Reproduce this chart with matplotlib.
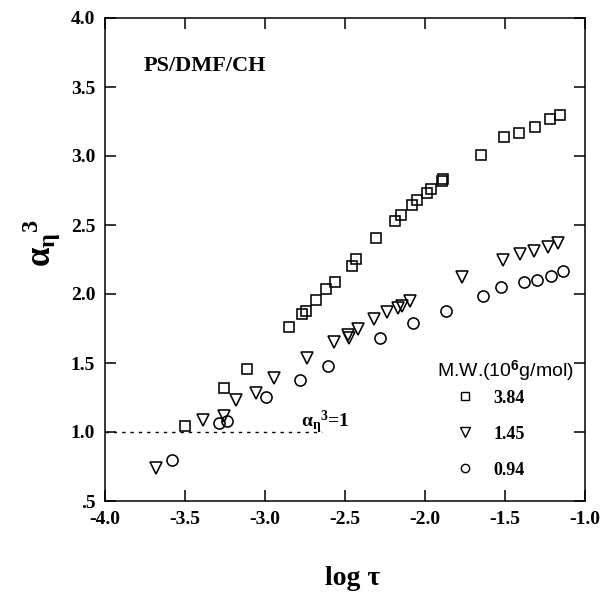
import matplotlib
matplotlib.use("Agg")
import matplotlib.pyplot as plt
from matplotlib.lines import Line2D

plt.rcParams['mathtext.fontset'] = 'custom'
plt.rcParams['mathtext.rm'] = 'Liberation Serif'
plt.rcParams['mathtext.it'] = 'Liberation Serif:italic'
plt.rcParams['mathtext.bf'] = 'Liberation Serif:bold'
plt.rcParams['mathtext.sf'] = 'Liberation Sans:bold'
plt.rcParams['axes.unicode_minus'] = False

# ---- data (log tau, alpha_eta^3) ----
sq_x = [-3.50, -3.254, -3.11, -2.85, -2.767, -2.746, -2.683, -2.62, -2.56,
        -2.458, -2.43, -2.306, -2.19, -2.152, -2.08, -2.052, -1.986, -1.962,
        -1.894, -1.888, -1.652, -1.508, -1.41, -1.31, -1.22, -1.154]
sq_y = [1.046, 1.317, 1.46, 1.76, 1.855, 1.877, 1.957, 2.036, 2.089,
        2.205, 2.254, 2.408, 2.527, 2.572, 2.643, 2.681, 2.73, 2.759,
        2.821, 2.831, 3.007, 3.135, 3.167, 3.212, 3.266, 3.295]

tri_x = [-3.68, -3.39, -3.254, -3.18, -3.056, -2.944, -2.74, -2.567, -2.48,
         -2.475, -2.42, -2.32, -2.24, -2.17, -2.146, -2.094, -1.77, -1.51,
         -1.406, -1.319, -1.233, -1.17]
tri_y = [0.737, 1.09, 1.116, 1.232, 1.28, 1.389, 1.534, 1.654, 1.70,
         1.68, 1.75, 1.817, 1.867, 1.90, 1.91, 1.95, 2.125, 2.246,
         2.29, 2.31, 2.34, 2.367]

cir_x = [-3.58, -3.286, -3.24, -2.994, -2.78, -2.606, -2.28, -2.073, -1.87,
         -1.64, -1.523, -1.38, -1.30, -1.21, -1.136]
cir_y = [0.797, 1.063, 1.082, 1.256, 1.38, 1.478, 1.68, 1.79, 1.88,
         1.985, 2.05, 2.09, 2.105, 2.13, 2.167]

series_labels = ['3.84', '1.45', '0.94']
series_markers = ['s', 'v', 'o']
series_sizes = [7.5, 9.0, 8.0]

x_ticks = [-4.0, -3.5, -3.0, -2.5, -2.0, -1.5, -1.0]
x_ticklabels = ['-4.0', '-3.5', '-3.0', '-2.5', '-2.0', '-1.5', '-1.0']
y_ticks = [0.5, 1.0, 1.5, 2.0, 2.5, 3.0, 3.5, 4.0]
y_ticklabels = ['.5', '1.0', '1.5', '2.0', '2.5', '3.0', '3.5', '4.0']

ref_x = [-4.0, -2.646]
ref_y = [1.0, 1.0]

W, H = 603, 592
fig = plt.figure(figsize=(W / 100, H / 100), dpi=100)
L, R, T, B = 105, 585, 18, 501
ax = fig.add_axes([L / W, 1 - B / H, (R - L) / W, (B - T) / H])

serif_b = dict(family='Liberation Serif', weight='bold')

for xs, ys, m, ms in zip([sq_x, tri_x, cir_x], [sq_y, tri_y, cir_y],
                         series_markers, series_sizes):
    ax.plot(xs, ys, marker=m, linestyle='none', markerfacecolor='none',
            markeredgecolor='black', markeredgewidth=1.15, markersize=ms)

ax.plot(ref_x, ref_y, color='black', lw=1.0, dashes=(2.4, 3.6))

ax.set_xlim(-4.0, -1.0)
ax.set_ylim(0.5, 4.0)
ax.set_xticks(x_ticks)
ax.set_xticklabels(x_ticklabels, fontsize=14, **serif_b)
ax.set_yticks(y_ticks)
ax.set_yticklabels(y_ticklabels, fontsize=14, **serif_b)
ax.tick_params(direction='in', length=8, width=1.1, top=True, right=True, pad=7)
for s in ax.spines.values():
    s.set_linewidth(1.1)

# text
ax.text(-3.756, 3.649, 'PS/DMF/CH', fontsize=16, ha='left', va='center', **serif_b)
ax.text(-2.775, 1.03, r'$\mathbf{\alpha_{\eta}{}^{3}}$=1', fontsize=14,
        ha='left', va='baseline', **serif_b)

fig.text(353 / W, 1 - 585 / H, 'log τ', fontsize=20, ha='center', va='baseline',
         **serif_b)
fig.text(42 / W, 1 - 243 / H, r'$\mathbf{\alpha_{\eta}{}^{3}}$', fontsize=25,
         rotation=90, ha='center', va='center')

# legend
ax.text(-1.925, 1.442, r'M.W.(10$^{\mathsf{6}}$g/mol)', fontsize=14,
        family='Liberation Sans', ha='left', va='center')
handles = [Line2D([], [], marker=m, linestyle='none', markerfacecolor='none',
                  markeredgecolor='black', markeredgewidth=1.0,
                  markersize=ms * 0.75)
           for m, ms in zip(series_markers, series_sizes)]
leg = ax.legend(handles, series_labels, loc='center left',
                bbox_to_anchor=(-1.875, 0.985), bbox_transform=ax.transData,
                frameon=False, borderpad=0, handlelength=1.2, handletextpad=1.0,
                labelspacing=1.05, prop=dict(family='Liberation Serif',
                                             weight='bold', size=13))

fig.savefig('out.png', dpi=100)
